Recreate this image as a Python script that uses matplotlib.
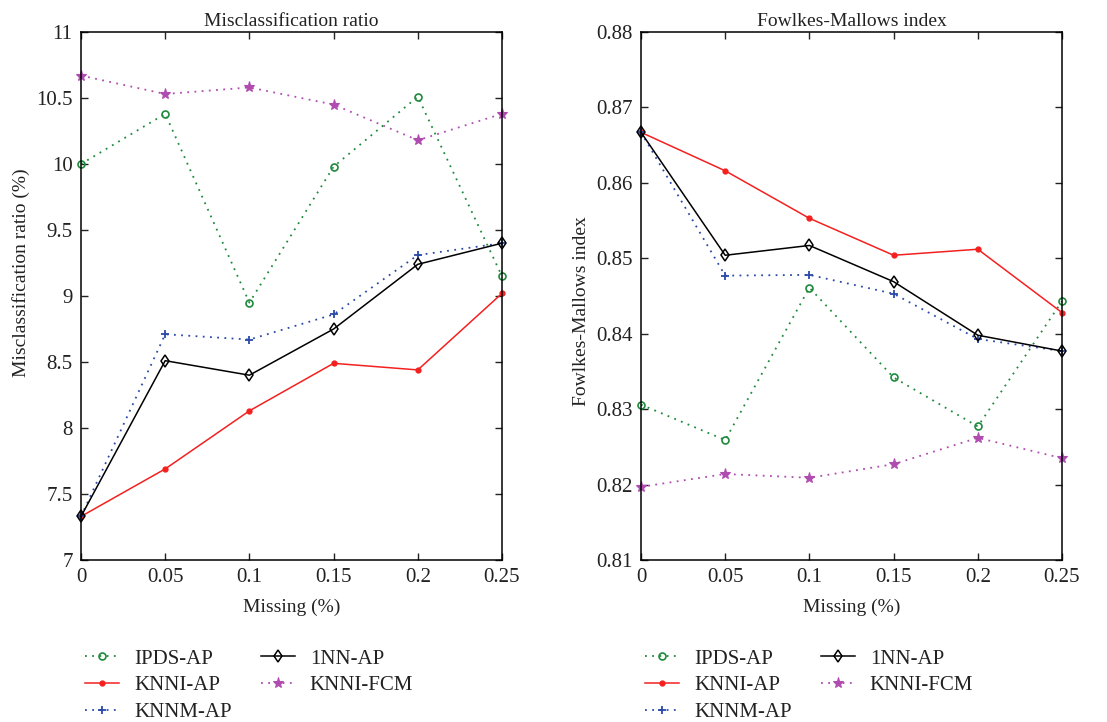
import numpy as np
import matplotlib
matplotlib.use("Agg")
import matplotlib.pyplot as plt

plt.rcParams.update({"font.family": ["Liberation Serif", "DejaVu Serif"], "font.size": 14,
    "axes.linewidth": 1.1, "xtick.direction": "in", "ytick.direction": "in",
    "xtick.top": True, "ytick.right": True, "xtick.major.size": 5, "ytick.major.size": 5,
    "xtick.major.width": 1.0, "ytick.major.width": 1.0, "text.color": "#222",
    "xtick.color": "#222", "ytick.color": "#222", "axes.labelcolor": "#222"})

missing = [0, 0.05, 0.1, 0.15, 0.2, 0.25]
series = ["IPDS-AP", "KNNI-AP", "KNNM-AP", "1NN-AP", "KNNI-FCM"]

# misclassification ratio (%)
mis_ipds = [10.00, 10.38, 8.95, 9.98, 10.51, 9.15]
mis_knni = [7.33, 7.69, 8.13, 8.49, 8.44, 9.02]
mis_knnm = [7.33, 8.71, 8.67, 8.86, 9.31, 9.40]
mis_1nn = [7.33, 8.51, 8.40, 8.75, 9.24, 9.40]
mis_fcm = [10.67, 10.53, 10.58, 10.45, 10.18, 10.38]

# Fowlkes-Mallows index
fm_ipds = [0.8306, 0.8259, 0.8461, 0.8342, 0.8277, 0.8443]
fm_knni = [0.8667, 0.8616, 0.8553, 0.8504, 0.8512, 0.8428]
fm_knnm = [0.8667, 0.8477, 0.8478, 0.8453, 0.8393, 0.8377]
fm_1nn = [0.8667, 0.8504, 0.8517, 0.8469, 0.8398, 0.8377]
fm_fcm = [0.8197, 0.8214, 0.8209, 0.8227, 0.8262, 0.8235]

DOT = (0, (1, 3))
STY = {
    "IPDS-AP": dict(color="#1e8a3c", ls=DOT, marker="o", mfc="none", ms=5, mew=1.2, lw=1.3),
    "KNNI-AP": dict(color="#f42020", ls="-", marker="o", mfc="#f42020", ms=3.5, mew=1, lw=1.1),
    "KNNM-AP": dict(color="#2a4aaa", ls=DOT, marker="+", ms=6, mew=1.3, lw=1.3),
    "1NN-AP": dict(color="black", ls="-", marker="d", mfc="none", ms=6, mew=1.1, lw=1.1),
    "KNNI-FCM": dict(color="#b04cb0", ls=DOT, marker="*", ms=8, mew=0.8, lw=1.3),
}

fig = plt.figure(figsize=(11.07, 7.22), dpi=100)
W, H = 1107, 722
ax1 = fig.add_axes([81/W, 1-560/H, (502-81)/W, (560-32)/H])
ax2 = fig.add_axes([641/W, 1-560/H, (1062-641)/W, (560-32)/H])

panels = [
    (ax1, [mis_ipds, mis_knni, mis_knnm, mis_1nn, mis_fcm], "Misclassification ratio",
     "Misclassification ratio (%)", (7, 11), np.arange(7, 11.01, 0.5),
     ["7", "7.5", "8", "8.5", "9", "9.5", "10", "10.5", "11"], 85, 0.545),
    (ax2, [fm_ipds, fm_knni, fm_knnm, fm_1nn, fm_fcm], "Fowlkes-Mallows index",
     "Fowlkes-Mallows index", (0.81, 0.88), np.arange(0.81, 0.8801, 0.01), None, 645, 0.472),
]

for ax, data, title, ylab, ylim, yt, ytl, legx, ylaby in panels:
    for name, vals in zip(series, data):
        ax.plot(missing, vals, label=name, clip_on=False, **STY[name])
    ax.set_xlim(0, 0.25); ax.set_ylim(*ylim)
    ax.set_xticks(missing); ax.set_xticklabels(["0", "0.05", "0.1", "0.15", "0.2", "0.25"])
    ax.set_yticks(yt)
    if ytl: ax.set_yticklabels(ytl)
    else: ax.set_yticklabels([f"{v:.2f}" for v in yt])
    ax.tick_params(labelsize=15, pad=6)
    ax.set_title(title, fontsize=14, pad=4)
    ax.set_xlabel("Missing (%)", fontsize=14, labelpad=8)
    ax.set_ylabel(ylab, fontsize=14)
    ax.yaxis.set_label_coords(-0.122, ylaby)
    h, l = ax.get_legend_handles_labels()
    # column-wise fill: col1 IPDS,KNNI,KNNM ; col2 1NN,FCM
    ax.legend(h, l, ncol=2, loc="upper left", bbox_to_anchor=(legx/W, 1-649/H),
              bbox_transform=fig.transFigure, frameon=False, borderpad=0, borderaxespad=0,
              handlelength=1.65, handletextpad=0.7, columnspacing=1.4, labelspacing=0.34,
              fontsize=15)

fig.savefig("out.png", dpi=100)
